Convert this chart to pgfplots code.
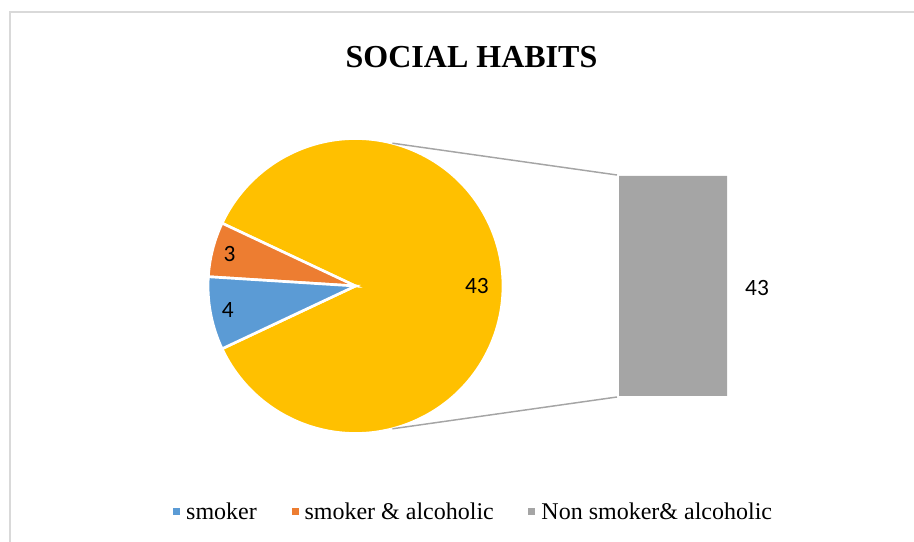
\documentclass[border=0pt]{standalone}
\usepackage{fontspec}
\setmainfont{Liberation Serif}
\newfontfamily\labfont{Carlito}
\usepackage{pgfplots}
\pgfplotsset{compat=1.18}
\usetikzlibrary{calc}
\definecolor{cBlue}{HTML}{5B9BD5}
\definecolor{cOrange}{HTML}{ED7D31}
\definecolor{cGray}{HTML}{A5A5A5}
\definecolor{cYellow}{HTML}{FFC000}
\definecolor{cBorder}{HTML}{D9D9D9}
\begin{document}
\begin{tikzpicture}
% data
\def\vSmoker{4}
\def\vSmAlc{3}
\def\vNon{43}
\pgfmathsetmacro{\tot}{\vSmoker+\vSmAlc+\vNon}
\pgfmathsetmacro{\spanSmall}{(\vSmoker+\vSmAlc)/\tot*360}
\pgfmathsetmacro{\aA}{180-\spanSmall/2}          % start of orange
\pgfmathsetmacro{\aB}{\aA+\vSmAlc/\tot*360}       % orange -> blue
\pgfmathsetmacro{\aC}{\aB+\vSmoker/\tot*360}      % blue -> yellow
\pgfmathsetmacro{\aD}{\aA+360}
\pgfmathsetmacro{\mO}{(\aA+\aB)/2}
\pgfmathsetmacro{\mB}{(\aB+\aC)/2}
\pgfmathsetmacro{\mY}{(\aC+\aD)/2}
\def\R{110.6pt}
\begin{axis}[
  name=ax,
  x=0.75pt, y=0.75pt,
  xmin=0, xmax=914, ymin=0, ymax=542,
  hide axis, clip=false,
  legend columns=3,
  legend image code/.code={\fill (0pt,-2.6pt) rectangle (5.25pt,2.65pt);},
  legend style={at={(axis cs:474,30)}, anchor=center, draw=none, fill=none,
    font=\fontsize{18}{20}\selectfont,
    nodes={inner xsep=2pt, inner ysep=1pt},
    /tikz/every odd column/.append style={column sep=2.5pt},
    /tikz/every even column/.append style={column sep=24pt}},
]
% chart border
\draw[cBorder, line width=1pt] (axis cs:914,530) -- (axis cs:10,530) -- (axis cs:10,0);
% title
\node[anchor=base, font=\bfseries\fontsize{24}{26}\selectfont] at (axis cs:471.5,474.5) {SOCIAL HABITS};
% pie
\fill[cYellow, draw=white, line width=2pt] (axis cs:355.5,256) -- ++(\aC:\R) arc[start angle=\aC, end angle=\aD, radius=\R] -- cycle;
\fill[cOrange, draw=white, line width=2pt] (axis cs:355.5,256) -- ++(\aA:\R) arc[start angle=\aA, end angle=\aB, radius=\R] -- cycle;
\fill[cBlue, draw=white, line width=2pt] (axis cs:355.5,256) -- ++(\aB:\R) arc[start angle=\aB, end angle=\aC, radius=\R] -- cycle;
% labels
\node[font=\labfont\fontsize{17.5}{19}\selectfont] at ($(axis cs:355.5,256)+(\mO:97.5pt)$) {\vSmAlc};
\node[font=\labfont\fontsize{17.5}{19}\selectfont] at ($(axis cs:355.5,256)+(\mB:97.5pt)$) {\vSmoker};
\node[font=\labfont\fontsize{17.5}{19}\selectfont] at ($(axis cs:355.5,256)+(\mY:91pt)$) {\vNon};
% connector lines
\addplot[cGray, line width=1.1pt, forget plot] coordinates {(392.4,398.8) (617,367)};
\addplot[cGray, line width=1.1pt, forget plot] coordinates {(392.4,113.2) (617,145)};
% bar of pie
\addplot[fill=cGray, draw=none, forget plot] coordinates {(619,146) (727,146) (727,366) (619,366) (619,146)};
\node[font=\labfont\fontsize{17.5}{19}\selectfont] at (axis cs:757,254) {43};
% legend
\addlegendimage{fill=cBlue, draw=none}\addlegendentry{smoker}
\addlegendimage{fill=cOrange, draw=none}\addlegendentry{smoker \& alcoholic}
\addlegendimage{fill=cGray, draw=none}\addlegendentry{Non smoker\& alcoholic}
\end{axis}
\pgfresetboundingbox
\path[use as bounding box] (ax.south west) rectangle (ax.north east);
\end{tikzpicture}
\end{document}
